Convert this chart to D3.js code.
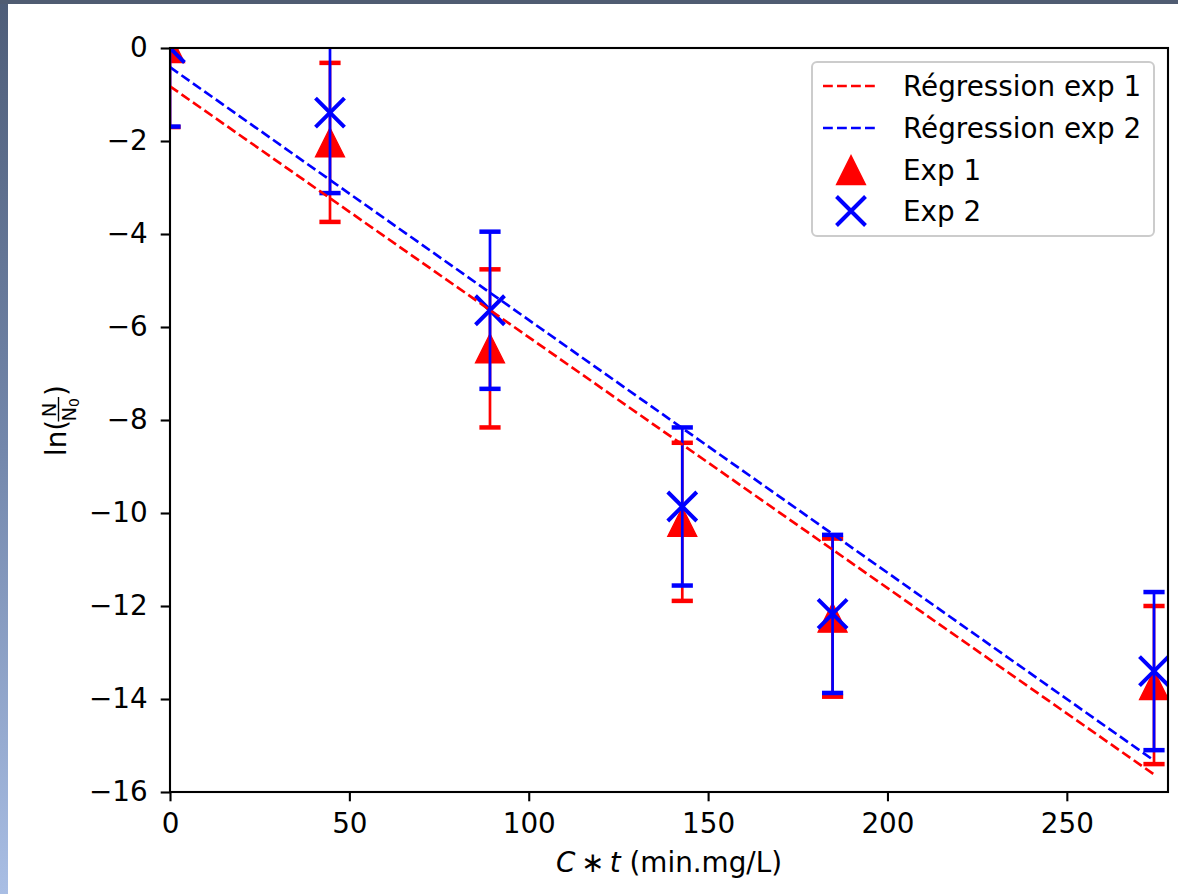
<!DOCTYPE html>
<html>
<head>
<meta charset="utf-8">
<script src="https://cdn.jsdelivr.net/npm/d3@7"></script>
<style>
  html, body { margin: 0; padding: 0; background: #ffffff; }
  svg { display: block; font-family: "DejaVu Sans", sans-serif; }
</style>
</head>
<body>
<svg id="chart" width="1178" height="894"></svg>
<script>
// C*t doses (min.mg/L)
const doses = [0, 44.6, 89.2, 142.8, 184.7, 274.3];
// ln(N/N0) for each experiment, with their error margins
const exp1 = [0, -2.03, -6.46, -10.19, -12.25, -13.70];
const exp1Err = [1.70, 1.71, 1.70, 1.70, 1.70, 1.70];
const exp2 = [0, -1.39, -5.64, -9.86, -12.17, -13.40];
const exp2Err = [1.69, 1.73, 1.69, 1.70, 1.70, 1.70];
const xTicks = [0, 50, 100, 150, 200, 250];
const yTicks = [0, -2, -4, -6, -8, -10, -12, -14, -16];
const legendLabels = ["Régression exp 1", "Régression exp 2", "Exp 1", "Exp 2"];

const W = 1178, H = 894;
const box = { left: 170, right: 1168, top: 48, bottom: 792 };
const FS = 27.8;
const RED = "#ff0000", BLUE = "#0000ff";

const svg = d3.select("#chart");
const defs = svg.append("defs");

// window frame behind the figure
const gLeft = defs.append("linearGradient").attr("id", "frameLeft")
  .attr("x1", 0).attr("y1", 0).attr("x2", 0).attr("y2", 1);
gLeft.append("stop").attr("offset", 0).attr("stop-color", "#4e5d78");
gLeft.append("stop").attr("offset", 0.5).attr("stop-color", "#7387ab");
gLeft.append("stop").attr("offset", 1).attr("stop-color", "#a9bee4");
svg.append("rect").attr("x", 0).attr("y", 0).attr("width", W).attr("height", H).attr("fill", "#ffffff");
svg.append("rect").attr("x", 0).attr("y", 0).attr("width", 8).attr("height", H).attr("fill", "url(#frameLeft)");
svg.append("rect").attr("x", 0).attr("y", 0).attr("width", W).attr("height", 4).attr("fill", "#505c72");

defs.append("clipPath").attr("id", "plotClip").append("rect")
  .attr("x", box.left).attr("y", box.top)
  .attr("width", box.right - box.left).attr("height", box.bottom - box.top);

const x = d3.scaleLinear().domain([0, 278.2]).range([box.left, box.right]);
const y = d3.scaleLinear().domain([-16, 0]).range([box.bottom, box.top]);

// least-squares fit of ln(N/N0) against C*t
function fit(xs, ys) {
  const mx = d3.mean(xs), my = d3.mean(ys);
  let sxy = 0, sxx = 0;
  xs.forEach((v, i) => { sxy += (v - mx) * (ys[i] - my); sxx += (v - mx) * (v - mx); });
  const slope = sxy / sxx;
  return { slope, intercept: my - slope * mx };
}

const series = [
  { name: legendLabels[2], values: exp1, err: exp1Err, color: RED, marker: "tri" },
  { name: legendLabels[3], values: exp2, err: exp2Err, color: BLUE, marker: "x" }
];

const plot = svg.append("g").attr("clip-path", "url(#plotClip)");

const TRI = 14.5, XS = 14.5, CAP = 10.6;
function drawMarker(g, kind, cx, cy, color) {
  if (kind === "tri") {
    g.append("path")
      .attr("d", `M${cx},${cy - TRI}L${cx - TRI},${cy + TRI}L${cx + TRI},${cy + TRI}Z`)
      .attr("fill", color).attr("stroke", color).attr("stroke-width", 1.3)
      .attr("stroke-linejoin", "miter");
  } else {
    g.append("path")
      .attr("d", `M${cx - XS},${cy - XS}L${cx + XS},${cy + XS}M${cx - XS},${cy + XS}L${cx + XS},${cy - XS}`)
      .attr("fill", "none").attr("stroke", color).attr("stroke-width", 4);
  }
}

// error bars and markers
series.forEach(s => {
  const g = plot.append("g");
  doses.forEach((d, i) => {
    const px = x(d);
    const top = y(s.values[i] + s.err[i]);
    const bot = y(s.values[i] - s.err[i]);
    g.append("line").attr("x1", px).attr("x2", px).attr("y1", top).attr("y2", bot)
      .attr("stroke", s.color).attr("stroke-width", 2.7);
    [top, bot].forEach(cy => {
      g.append("line").attr("x1", px - CAP).attr("x2", px + CAP).attr("y1", cy).attr("y2", cy)
        .attr("stroke", s.color).attr("stroke-width", 4.5);
    });
    drawMarker(g, s.marker, px, y(s.values[i]), s.color);
  });
});

// regression lines
const fits = [fit(doses, exp1), fit(doses, exp2)];
const xEnd = d3.max(doses);
fits.forEach((f, i) => {
  plot.append("line")
    .attr("x1", x(0)).attr("y1", y(f.intercept))
    .attr("x2", x(xEnd)).attr("y2", y(f.intercept + f.slope * xEnd))
    .attr("stroke", i === 0 ? RED : BLUE).attr("stroke-width", 2.65)
    .attr("stroke-dasharray", "9.8,4.2");
});

// axes
const xAxis = svg.append("g").attr("transform", `translate(0,${box.bottom})`)
  .call(d3.axisBottom(x).tickValues(xTicks).tickSize(9.3).tickPadding(12).tickFormat(d3.format("d")));
const yAxis = svg.append("g").attr("transform", `translate(${box.left},0)`)
  .call(d3.axisLeft(y).tickValues(yTicks).tickSize(9.3).tickPadding(13).tickFormat(d3.format("d")));
[xAxis, yAxis].forEach(a => {
  a.select(".domain").remove();
  a.selectAll(".tick line").attr("stroke", "#000").attr("stroke-width", 2.1);
  a.selectAll(".tick text").attr("fill", "#000").style("font-size", FS + "px")
    .style("font-family", "'DejaVu Sans', sans-serif");
});

// spines
svg.append("rect").attr("x", box.left).attr("y", box.top)
  .attr("width", box.right - box.left).attr("height", box.bottom - box.top)
  .attr("fill", "none").attr("stroke", "#000").attr("stroke-width", 2.1);

// x label: C*t (min.mg/L)
const xl = svg.append("text").attr("x", (box.left + box.right) / 2).attr("y", 872)
  .attr("text-anchor", "middle").style("font-size", FS + "px").attr("fill", "#000");
xl.append("tspan").style("font-style", "italic").text("C");
xl.append("tspan").text("\u2009\u2217\u2009");
xl.append("tspan").style("font-style", "italic").text("t");
xl.append("tspan").text(" (min.mg/L)");

// y label: ln(N/N0)
const yl = svg.append("g").attr("transform", "translate(66,420) rotate(-90)");
const SF = 19.5;
yl.append("text").attr("x", -36).attr("y", 0).style("font-size", FS + "px").attr("fill", "#000").text("ln(");
yl.append("text").attr("x", 10).attr("y", -10.5).attr("text-anchor", "middle")
  .style("font-size", SF + "px").attr("fill", "#000").text("N");
yl.append("line").attr("x1", -1.5).attr("x2", 23).attr("y1", -7.5).attr("y2", -7.5)
  .attr("stroke", "#000").attr("stroke-width", 1.4);
const den = yl.append("text").attr("x", -1.5).attr("y", 10).style("font-size", SF + "px").attr("fill", "#000");
den.append("tspan").text("N");
den.append("tspan").attr("dy", 3).style("font-size", "14px").text("0");
yl.append("text").attr("x", 24).attr("y", 0).style("font-size", FS + "px").attr("fill", "#000").text(")");

// legend
const lg = svg.append("g");
lg.append("rect").attr("x", 812).attr("y", 62).attr("width", 342).attr("height", 174).attr("rx", 5)
  .attr("fill", "#ffffff").attr("fill-opacity", 0.8).attr("stroke", "#cccccc").attr("stroke-width", 2);
const rowsY = [86, 128, 170, 211];
[RED, BLUE].forEach((c, i) => {
  lg.append("line").attr("x1", 823).attr("x2", 878).attr("y1", rowsY[i]).attr("y2", rowsY[i])
    .attr("stroke", c).attr("stroke-width", 2.65).attr("stroke-dasharray", "9.8,4.2");
});
series.forEach((s, i) => drawMarker(lg, s.marker, 851, rowsY[i + 2], s.color));
legendLabels.forEach((t, i) => {
  lg.append("text").attr("x", 903).attr("y", rowsY[i] + 10).style("font-size", FS + "px")
    .attr("fill", "#000").text(t);
});
</script>
</body>
</html>
